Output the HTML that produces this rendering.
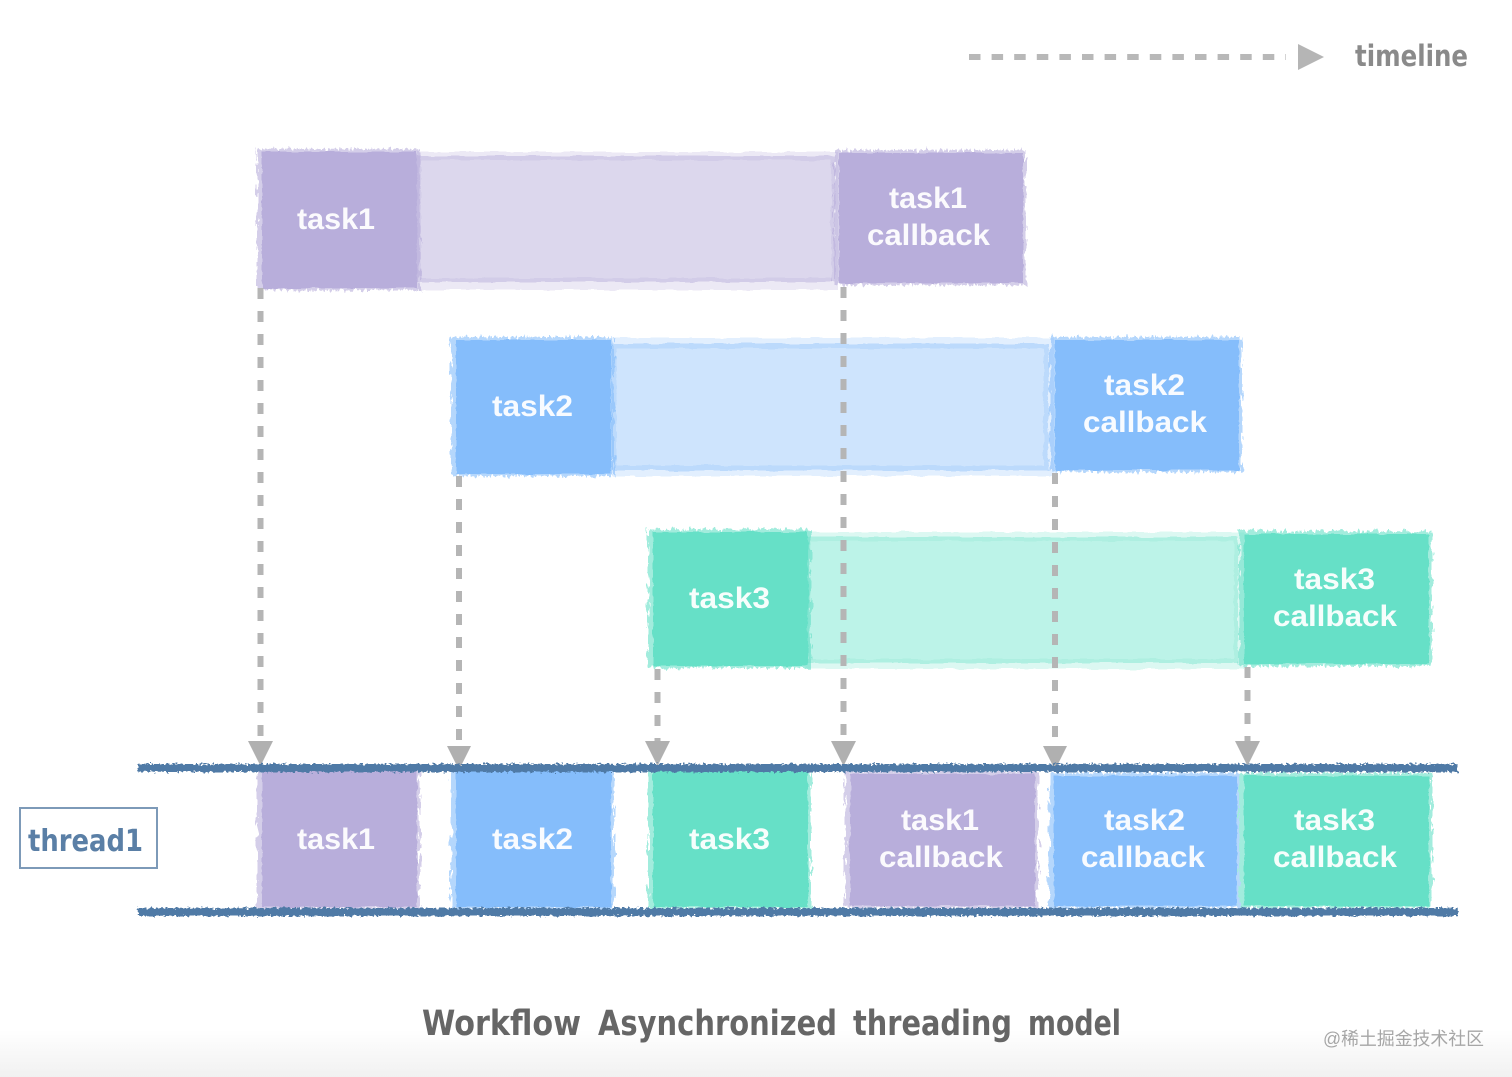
<!DOCTYPE html>
<html lang="en">
<head>
<meta charset="utf-8">
<title>Workflow Asynchronized threading model</title>
<style>
html,body{margin:0;padding:0;background:#fff;width:1512px;height:1077px;overflow:hidden}
svg{display:block}
.t{font-family:"Liberation Sans",Arial,sans-serif;font-weight:700;font-size:30px;fill:#fff;text-anchor:start;fill-opacity:.94}
.h{font-family:"DejaVu Sans","Liberation Sans",sans-serif;font-weight:700}
</style>
</head>
<body>
<svg width="1512" height="1077" viewBox="0 0 1512 1077" xmlns="http://www.w3.org/2000/svg">
<defs>
<linearGradient id="bot" x1="0" y1="0" x2="0" y2="1">
<stop offset="0" stop-color="#fff"/><stop offset="1" stop-color="#f1f1f1"/>
</linearGradient>
<filter id="rough" x="-5%" y="-5%" width="110%" height="110%">
<feTurbulence type="fractalNoise" baseFrequency="0.05 0.12" numOctaves="3" seed="4"/>
<feDisplacementMap in="SourceGraphic" scale="4"/>
</filter>
<filter id="streak" x="-8%" y="-8%" width="116%" height="116%">
<feTurbulence type="fractalNoise" baseFrequency="0.35 0.08" numOctaves="3" seed="12"/>
<feDisplacementMap in="SourceGraphic" scale="9"/>
</filter>
<filter id="line" x="-1%" y="-100%" width="102%" height="300%">
<feTurbulence type="fractalNoise" baseFrequency="0.3 0.45" numOctaves="2" seed="9"/>
<feDisplacementMap in="SourceGraphic" scale="6"/>
</filter>
</defs>

<rect x="0" y="1030" width="1512" height="47" fill="url(#bot)"/>

<!-- timeline legend -->
<line x1="969" y1="57" x2="1286" y2="57" stroke="#b8b8b8" stroke-width="6" stroke-dasharray="11.500 11.100"/>
<polygon points="1298,44 1324,57 1298,70" fill="#b5b5b5"/>
<text class="h" x="1355" y="66" font-size="29" fill="#8a8a8a" textLength="113" lengthAdjust="spacingAndGlyphs">timeline</text>

<!-- wait bars -->
<g filter="url(#rough)">
<rect x="418" y="152" width="420" height="138" fill="#ece9f5"/>
<rect x="419" y="158" width="414" height="122" fill="#dcd7ed" stroke="#d2cce8" stroke-width="4"/>
<rect x="612" y="338" width="442" height="138" fill="#e2effe"/>
<rect x="614" y="346" width="432" height="122" fill="#cee4fd" stroke="#bcdafc" stroke-width="5"/>
<rect x="806" y="532" width="438" height="137" fill="#dcf8f2"/>
<rect x="808" y="539" width="428" height="122" fill="#bcf3e8" stroke="#aeefe1" stroke-width="4"/>
</g>

<!-- dry-brush edges -->
<g filter="url(#streak)" opacity=".6">
<rect x="257" y="149" width="163" height="141" fill="#b8aedb"/>
<rect x="834" y="150" width="192" height="135" fill="#b8aedb"/>
<rect x="451" y="337" width="163" height="139" fill="#85bdfb"/>
<rect x="1050" y="337" width="192" height="135" fill="#85bdfb"/>
<rect x="648" y="529" width="163" height="139" fill="#66e0c7"/>
<rect x="1239" y="531" width="193" height="135" fill="#66e0c7"/>
<rect x="257" y="768" width="163" height="141" fill="#b8aedb"/>
<rect x="451" y="768" width="163" height="141" fill="#85bdfb"/>
<rect x="648" y="768" width="163" height="141" fill="#66e0c7"/>
<rect x="845" y="771" width="193" height="137" fill="#b8aedb"/>
<rect x="1049" y="773" width="191" height="135" fill="#85bdfb"/>
<rect x="1239" y="773" width="193" height="135" fill="#66e0c7"/>
</g>

<!-- solid boxes -->
<g filter="url(#rough)">
<rect x="262" y="152" width="155" height="136" fill="#b8aedb"/>
<rect x="839" y="153" width="184" height="130" fill="#b8aedb"/>
<rect x="456" y="340" width="155" height="134" fill="#85bdfb"/>
<rect x="1055" y="340" width="184" height="130" fill="#85bdfb"/>
<rect x="653" y="532" width="155" height="134" fill="#66e0c7"/>
<rect x="1244" y="534" width="185" height="130" fill="#66e0c7"/>
<rect x="262" y="770" width="155" height="137" fill="#b8aedb"/>
<rect x="456" y="770" width="155" height="137" fill="#85bdfb"/>
<rect x="653" y="770" width="155" height="137" fill="#66e0c7"/>
<rect x="850" y="774" width="185" height="132" fill="#b8aedb"/>
<rect x="1054" y="776" width="183" height="130" fill="#85bdfb"/>
<rect x="1244" y="776" width="185" height="130" fill="#66e0c7"/>
</g>

<!-- dashed connectors -->
<g stroke="#b5b5b5" stroke-width="6" stroke-dasharray="11 12" fill="none">
<line x1="260.500" y1="288" x2="260.500" y2="745"/>
<line x1="459" y1="476" x2="459" y2="750"/>
<line x1="657.500" y1="669" x2="657.500" y2="745"/>
<line x1="843.500" y1="287" x2="843.500" y2="745"/>
<line x1="1055" y1="473" x2="1055" y2="750"/>
<line x1="1247.500" y1="667" x2="1247.500" y2="745"/>
</g>
<g fill="#b0b0b0">
<polygon points="248,741 273,741 260.500,766"/>
<polygon points="447,746 471,746 459,770"/>
<polygon points="645,741 670,741 657.500,766"/>
<polygon points="831,741 856,741 843.500,766"/>
<polygon points="1043,746 1067,746 1055,770"/>
<polygon points="1235,741 1260,741 1247.500,766"/>
</g>

<!-- thread rails -->
<g filter="url(#line)" fill="#4f7aa6">
<rect x="138" y="764" width="1320" height="8"/>
<rect x="138" y="908" width="1320" height="8"/>
</g>

<!-- labels -->
<text class="t" x="297" y="229" textLength="78" lengthAdjust="spacingAndGlyphs">task1</text>
<text class="t" x="889" y="208" textLength="78" lengthAdjust="spacingAndGlyphs">task1</text>
<text class="t" x="867" y="245" textLength="123" lengthAdjust="spacingAndGlyphs">callback</text>
<text class="t" x="492" y="416" textLength="81" lengthAdjust="spacingAndGlyphs">task2</text>
<text class="t" x="1104" y="395" textLength="81" lengthAdjust="spacingAndGlyphs">task2</text>
<text class="t" x="1083" y="432" textLength="124" lengthAdjust="spacingAndGlyphs">callback</text>
<text class="t" x="689" y="608" textLength="81" lengthAdjust="spacingAndGlyphs">task3</text>
<text class="t" x="1294" y="589" textLength="81" lengthAdjust="spacingAndGlyphs">task3</text>
<text class="t" x="1273" y="626" textLength="124" lengthAdjust="spacingAndGlyphs">callback</text>
<text class="t" x="297" y="849" textLength="78" lengthAdjust="spacingAndGlyphs">task1</text>
<text class="t" x="492" y="849" textLength="81" lengthAdjust="spacingAndGlyphs">task2</text>
<text class="t" x="689" y="849" textLength="81" lengthAdjust="spacingAndGlyphs">task3</text>
<text class="t" x="901" y="830" textLength="78" lengthAdjust="spacingAndGlyphs">task1</text>
<text class="t" x="879" y="867" textLength="124" lengthAdjust="spacingAndGlyphs">callback</text>
<text class="t" x="1104" y="830" textLength="81" lengthAdjust="spacingAndGlyphs">task2</text>
<text class="t" x="1081" y="867" textLength="124" lengthAdjust="spacingAndGlyphs">callback</text>
<text class="t" x="1294" y="830" textLength="81" lengthAdjust="spacingAndGlyphs">task3</text>
<text class="t" x="1273" y="867" textLength="124" lengthAdjust="spacingAndGlyphs">callback</text>

<!-- thread label -->
<rect x="20" y="808" width="137" height="60" fill="#fff" stroke="#7d9ab8" stroke-width="2"/>
<text class="h" x="28" y="851" font-size="30" fill="#5a7fa6" textLength="115" lengthAdjust="spacingAndGlyphs">thread1</text>

<!-- caption -->
<g class="h" font-size="35" fill="#666">
<text x="422" y="1035" textLength="159" lengthAdjust="spacingAndGlyphs">Workflow</text>
<text x="598" y="1035" textLength="239" lengthAdjust="spacingAndGlyphs">Asynchronized</text>
<text x="853" y="1035" textLength="159" lengthAdjust="spacingAndGlyphs">threading</text>
<text x="1028" y="1035" textLength="93" lengthAdjust="spacingAndGlyphs">model</text>
</g>

<!-- watermark -->
<text x="1323" y="1045" font-size="18" fill="#a6a6a6" font-family="'Liberation Sans','Noto Sans CJK SC',sans-serif" textLength="161" lengthAdjust="spacingAndGlyphs">@稀土掘金技术社区</text>
</svg>
</body>
</html>
